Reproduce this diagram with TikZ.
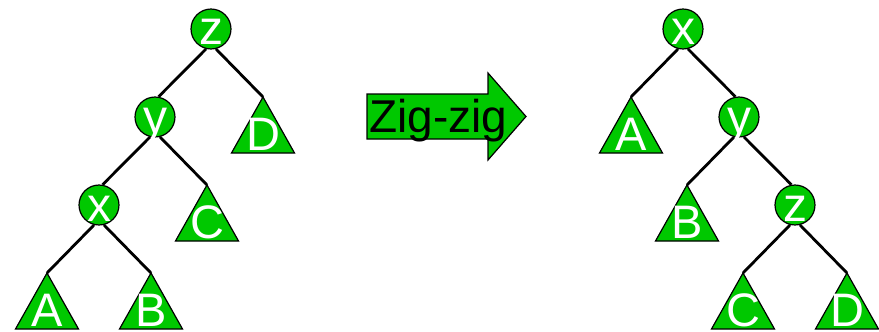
\documentclass[tikz,border=0pt]{standalone}
\usepackage{fontspec}
\setmainfont{Liberation Sans}
\usetikzlibrary{calc}
\definecolor{leafgreen}{RGB}{0,200,0}

% a subtree drawn as a triangle hanging from its apex: name, apex x, apex y, letter
\newcommand\leaftri[4]{%
  \coordinate (#1) at (#2,#3);
  \draw[subtree] (#1) -- ++(31.5,56) -- ++(-63,0) -- cycle;
  \node[treetext] (#1-label) at ($(#1)+(0,53.5)$) {#4};
}

\begin{document}
\begin{tikzpicture}[x=1pt,y=-1pt,
  keynode/.style={circle, draw=black, line width=1.2pt, fill=leafgreen,
    minimum size=39pt, inner sep=0pt, text=white,
    font=\fontsize{48}{48}\selectfont, text height=32pt, text depth=0pt},
  subtree/.style={draw=black, line width=1.2pt, fill=leafgreen, line join=miter},
  treetext/.style={text=white, font=\fontsize{47}{47}\selectfont,
    anchor=base, inner sep=0pt},
  link/.style={draw=black, line width=2.8pt},
  rotation/.style={draw=black, line width=1.2pt, fill=leafgreen, line join=miter},
  rotlabel/.style={text=black, font=\fontsize{46}{46}\selectfont,
    anchor=base, inner sep=0pt},
]
\useasboundingbox (0,0) rectangle (879,332);

% ---- tree before the rotation ----
\leaftri{lD}{263}{97}{D}
\leaftri{lC}{207}{185}{C}
\leaftri{lA}{47}{273}{A}
\leaftri{lB}{151}{273}{B}
\node[keynode] (lz) at (211,29) {z};
\node[keynode] (ly) at (155,117) {y};
\node[keynode] (lx) at (99,205) {x};
\draw[link] (lz.-104) -- (ly.80);
\draw[link] (lz.-76) -- (lD);
\draw[link] (ly.-104) -- (lx.80);
\draw[link] (ly.-76) -- (lC);
\draw[link] (lx.-104) -- (lA);
\draw[link] (lx.-76) -- (lB);

% ---- rotation arrow ----
\draw[rotation] (367,94) -- (488,94) -- (488,73) -- (526,116.5)
  -- (488,160) -- (488,139) -- (367,139) -- cycle;
\node[rotlabel] (zigzig) at (438.5,132.5) {Zig-zig};

% ---- tree after the rotation ----
\leaftri{rA}{631}{97}{A}
\leaftri{rB}{687}{185}{B}
\leaftri{rC}{743}{273}{C}
\leaftri{rD}{847}{273}{D}
\node[keynode] (rx) at (683,29) {x};
\node[keynode] (ry) at (739,117) {y};
\node[keynode] (rz) at (795,205) {z};
\draw[link] (rx.-104) -- (rA);
\draw[link] (rx.-76) -- (ry.100);
\draw[link] (ry.-104) -- (rB);
\draw[link] (ry.-76) -- (rz.100);
\draw[link] (rz.-104) -- (rC);
\draw[link] (rz.-76) -- (rD);
\end{tikzpicture}
\end{document}
